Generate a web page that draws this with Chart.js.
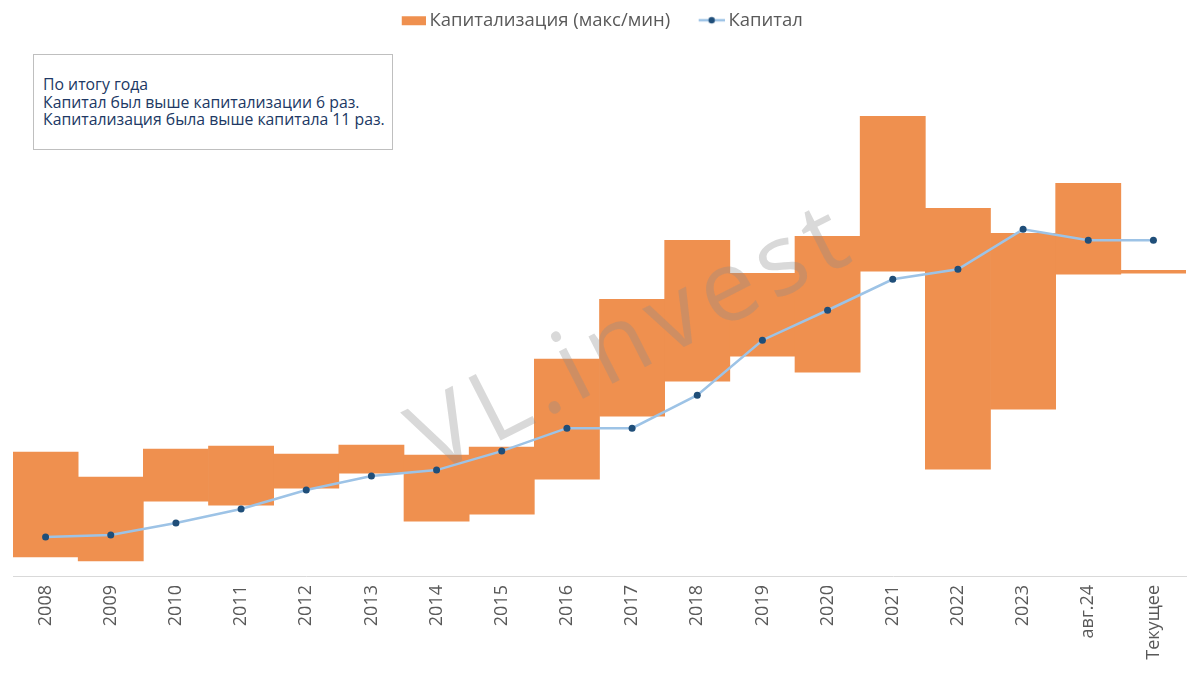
<!DOCTYPE html>
<html>
<head>
<meta charset="utf-8">
<script src="https://cdn.jsdelivr.net/npm/chart.js@4.4.1/dist/chart.umd.min.js"></script>
<style>
html,body{margin:0;padding:0;background:#fff;}
#wrap{position:relative;width:1200px;height:675px;}
#note{position:absolute;left:33px;top:54px;width:360px;height:96px;box-sizing:border-box;border:1.5px solid #bfbfbf;
  font-family:"Open Sans",sans-serif;font-size:15.8px;line-height:17.5px;color:#203864;padding:21px 0 0 9px;white-space:nowrap;background:#fff;}
</style>
</head>
<body>
<div id="wrap">
<canvas id="c" width="1200" height="675"></canvas>
<div id="note">По итогу года<br>Капитал был выше капитализации 6 раз.<br>Капитализация была выше капитала 11 раз.</div>
</div>
<script>
const categories = ['2008','2009','2010','2011','2012','2013','2014','2015','2016','2017','2018','2019','2020','2021','2022','2023','авг.24','Текущее'];
const capMin = [19, 15, 75, 71, 88, 103, 55, 62, 97, 160, 195, 220, 204, 305, 107, 167, 302, 303];
const capMax = [124, 99, 127, 130, 122, 131, 121, 129, 217, 277, 336, 303, 340, 460, 368, 343, 393, 306];
const capital = [39, 41, 53, 67, 86, 100, 106, 125, 148, 148, 181, 236, 266, 297, 307, 347, 336, 336];
const seriesNames = ['Капитализация (макс/мин)', 'Капитал'];

const ORANGE = '#EF904F', LINEBLUE = '#9DC3E6', NAVY = '#1F4E79';
const PSW = 40;

function makeRectIcon(){
  const c = document.createElement('canvas');
  c.width = PSW + 11; c.height = 12;
  const x = c.getContext('2d');
  x.fillStyle = ORANGE;
  x.fillRect(c.width - 24, 2, 24, 9);
  return c;
}
function makeLineIcon(){
  const c = document.createElement('canvas');
  c.width = PSW + 11; c.height = 12;
  const x = c.getContext('2d');
  x.strokeStyle = LINEBLUE; x.lineWidth = 2.5;
  x.beginPath(); x.moveTo(c.width - 26, 6); x.lineTo(c.width, 6); x.stroke();
  x.fillStyle = NAVY;
  x.beginPath(); x.arc(c.width - 13, 6, 3.2, 0, Math.PI*2); x.fill();
  return c;
}
const icons = [makeRectIcon(), makeLineIcon()];

const watermark = {
  id: 'watermark',
  afterDatasetDraw(chart, args){
    if (args.index !== 0) return;
    const ctx = chart.ctx;
    ctx.save();
    ctx.translate(647, 366);
    ctx.rotate(-27 * Math.PI / 180);
    ctx.font = '400 99px "Open Sans"';
    if ('letterSpacing' in ctx) ctx.letterSpacing = '8px';
    ctx.fillStyle = 'rgba(140,140,140,0.33)';
    ctx.textAlign = 'center';
    ctx.textBaseline = 'alphabetic';
    ctx.fillText('VL.invest', 0, 0);
    ctx.restore();
  }
};

const legendShift = {
  id: 'legendShift',
  afterLayout(chart){
    chart.legend.left -= 8;
    chart.legend.right -= 8;
  }
};

new Chart(document.getElementById('c'), {
  data: {
    labels: categories,
    datasets: [
      {
        type: 'bar',
        label: seriesNames[0],
        data: capMin.map((v, i) => [v, capMax[i]]),
        backgroundColor: ORANGE,
        borderWidth: 0,
        barPercentage: 1,
        categoryPercentage: 1,
        order: 2
      },
      {
        type: 'line',
        label: seriesNames[1],
        data: capital,
        borderColor: LINEBLUE,
        borderWidth: 2.5,
        pointRadius: 3.5,
        pointBackgroundColor: NAVY,
        pointBorderColor: NAVY,
        pointBorderWidth: 0,
        tension: 0,
        order: 1
      }
    ]
  },
  options: {
    responsive: false,
    devicePixelRatio: 1,
    animation: false,
    layout: { padding: { left: 13, right: 14, top: 2, bottom: 0 } },
    plugins: {
      tooltip: { enabled: false },
      legend: {
        display: true,
        position: 'top',
        labels: {
          usePointStyle: true,
          pointStyleWidth: PSW,
          padding: 9,
          color: '#595959',
          font: { family: '"Open Sans"', size: 18.5 },
          generateLabels(chart){
            return chart.data.datasets.map((ds, i) => ({
              text: ds.label,
              pointStyle: icons[i],
              fillStyle: 'transparent',
              strokeStyle: 'transparent',
              lineWidth: 0,
              fontColor: '#595959',
              hidden: false,
              datasetIndex: i
            }));
          }
        }
      }
    },
    scales: {
      x: {
        offset: true,
        grid: { display: false, drawTicks: false },
        border: { display: true, color: '#d9d9d9', width: 1 },
        ticks: {
          color: '#595959',
          font: { family: '"Open Sans"', size: 18 },
          minRotation: 90,
          maxRotation: 90,
          padding: 9,
          autoSkip: false
        },
        afterFit(scale){ scale.height = 99; }
      },
      y: {
        display: false,
        min: 0,
        max: 537
      }
    }
  },
  plugins: [watermark, legendShift]
});
</script>
</body>
</html>
